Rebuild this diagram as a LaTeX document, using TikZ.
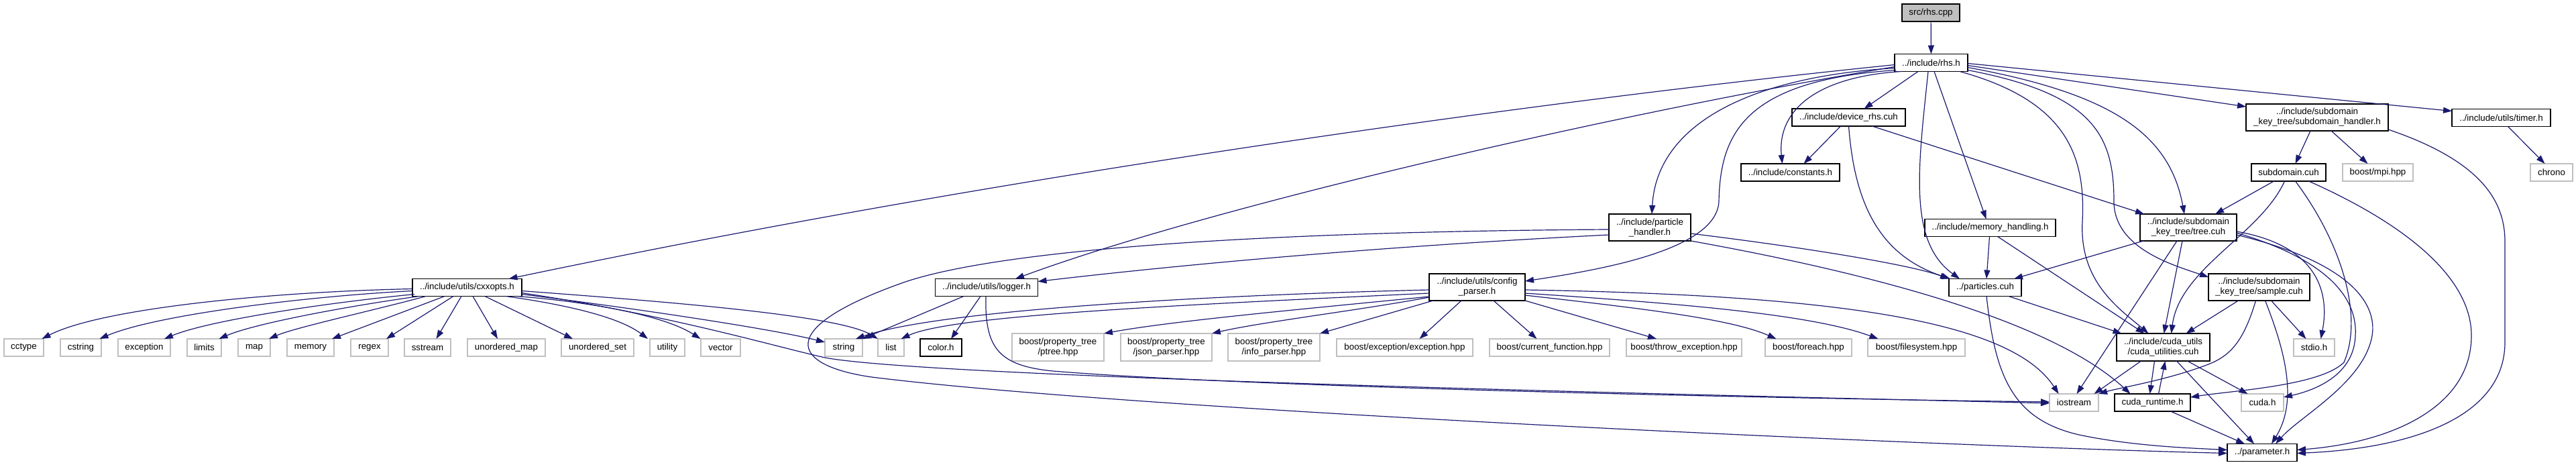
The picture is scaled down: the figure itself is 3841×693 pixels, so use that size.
\documentclass[tikz,border=0pt]{standalone}
\usepackage{fontspec}
\setmainfont{Liberation Sans}
\usetikzlibrary{arrows.meta}
\definecolor{edgeblue}{HTML}{191970}
\definecolor{leafgray}{HTML}{BFBFBF}
\begin{document}
\begin{tikzpicture}[x=1pt,y=-1pt,
  box/.style={draw=black, line width=1.3pt, fill=white, inner sep=0pt, outer sep=0pt,
    font=\fontsize{13.33}{15}\selectfont, align=center, minimum height=26pt},
  doc/.style={box},
  twol/.style={minimum height=40pt},
  leaf/.style={box, draw=leafgray},
  root/.style={box, fill=leafgray},
  dep/.style={draw=edgeblue, line width=1.2pt, -{Triangle[length=13pt,width=9pt]}}
]
\useasboundingbox (0,0) rectangle (3841,693);

% ---------- nodes ----------
\node[root, minimum width=86pt]  (src)    at (2879,19)     {src/rhs.cpp};
\node[doc, minimum width=109pt]  (rhs)    at (2879.5,93.5) {../include/rhs.h};
\node[doc, minimum width=169pt]  (devrhs) at (2756.5,175)  {../include/device\_rhs.cuh};
\node[doc, minimum width=147pt]  (consts) at (2669.5,257)  {../include/constants.h};
\node[doc, twol, minimum width=122pt] (phandler) at (2460,339) {../include/particle\\\_handler.h};
\node[doc, minimum width=195pt]  (memh)   at (2967.5,339.5) {../include/memory\_handling.h};
\node[doc, twol, minimum width=212pt] (subh) at (3455,175) {../include/subdomain\\\_key\_tree/subdomain\_handler.h};
\node[doc, minimum width=147pt]  (timer)  at (3729.5,175.5) {../include/utils/timer.h};
\node[doc, minimum width=111pt]  (subdom) at (3412.5,257)  {subdomain.cuh};
\node[leaf, minimum width=105pt] (mpi)    at (3545.5,257)  {boost/mpi.hpp};
\node[leaf, minimum width=63pt]  (chrono) at (3804.5,257)  {chrono};
\node[doc, twol, minimum width=144pt] (tree) at (3263,339) {../include/subdomain\\\_key\_tree/tree.cuh};
\node[doc, minimum width=163pt]  (cxxopts) at (696.5,428.5) {../include/utils/cxxopts.h};
\node[doc, minimum width=153pt]  (logger) at (1471,428.5)  {../include/utils/logger.h};
\node[doc, twol, minimum width=143pt] (config) at (2202.5,428) {../include/utils/config\\\_parser.h};
\node[doc, minimum width=108pt]  (particles) at (2960,428.5) {../particles.cuh};
\node[doc, twol, minimum width=151pt] (sample) at (3368.5,428) {../include/subdomain\\\_key\_tree/sample.cuh};

\node[leaf, minimum width=59pt]  (cctype)  at (35.5,518)  {cctype};
\node[leaf, minimum width=61pt]  (cstring) at (120.5,518) {cstring};
\node[leaf, minimum width=78pt]  (exception) at (215,518) {exception};
\node[leaf, minimum width=51pt]  (limits)  at (304.5,518) {limits};
\node[leaf, minimum width=48pt]  (map)     at (379,518)   {map};
\node[leaf, minimum width=70pt]  (memory)  at (463,518)   {memory};
\node[leaf, minimum width=56pt]  (regex)   at (551,518)   {regex};
\node[leaf, minimum width=69pt]  (sstream) at (637.5,518) {sstream};
\node[leaf, minimum width=116pt] (umap)    at (755,518)   {unordered\_map};
\node[leaf, minimum width=108pt] (uset)    at (891,518)   {unordered\_set};
\node[leaf, minimum width=52pt]  (utility) at (995,518)   {utility};
\node[leaf, minimum width=59pt]  (vector)  at (1074.5,518) {vector};
\node[leaf, minimum width=56pt]  (string)  at (1258,518)  {string};
\node[leaf, minimum width=39pt]  (list)    at (1328.5,518) {list};
\node[doc,  minimum width=62pt]  (color)   at (1403,518)  {color.h};
\node[leaf, minimum width=137pt, minimum height=41pt] (ptree) at (1577.5,517.5) {boost/property\_tree\\/ptree.hpp};
\node[leaf, minimum width=136pt, minimum height=41pt] (json)  at (1739,517.5)   {boost/property\_tree\\/json\_parser.hpp};
\node[leaf, minimum width=137pt, minimum height=41pt] (info)  at (1899.5,517.5) {boost/property\_tree\\/info\_parser.hpp};
\node[leaf, minimum width=203pt] (bexc)    at (2094.5,518) {boost/exception/exception.hpp};
\node[leaf, minimum width=179pt] (bcur)    at (2310.5,518) {boost/current\_function.hpp};
\node[leaf, minimum width=172pt] (bthrow)  at (2511,518)   {boost/throw\_exception.hpp};
\node[leaf, minimum width=129pt] (bforeach) at (2696.5,518) {boost/foreach.hpp};
\node[leaf, minimum width=145pt] (bfs)     at (2857.5,518) {boost/filesystem.hpp};
\node[doc, minimum width=139pt, minimum height=41pt] (cudautil) at (3225.5,517.5) {../include/cuda\_utils\\/cuda\_utilities.cuh};
\node[leaf, minimum width=61pt]  (stdio)   at (3450.5,518) {stdio.h};
\node[leaf, minimum width=73pt]  (iostream) at (3092.5,600) {iostream};
\node[doc,  minimum width=113pt] (cudart)  at (3209.5,600) {cuda\_runtime.h};
\node[leaf, minimum width=63pt]  (cudah)   at (3373.5,600) {cuda.h};
\node[doc,  minimum width=104pt] (param)   at (3373,674.5) {../parameter.h};

% ---------- edges ----------
\draw[dep] (src) -- (rhs);
% rhs.h
\draw[dep] ([yshift=-3pt]rhs.west) .. controls (2300,150) and (1500,260) .. ([xshift=62pt]cxxopts.north);
\draw[dep] ([yshift=-6pt]rhs.west) .. controls (2400,170) and (1800,310) .. ([xshift=43pt]logger.north);
\draw[dep] ([yshift=-8pt]rhs.west) .. controls (2600,115) and (2470,190) .. ([xshift=3pt]phandler.north);
\draw[dep] ([xshift=2pt,yshift=2pt]rhs.south west) .. controls (2600,120) and (2565,200) .. (2563,300)
           .. controls (2560,370) and (2400,400) .. ([yshift=9pt]config.east);
\draw[dep] ([xshift=10pt]rhs.south west) .. controls (2700,115) and (2650,170) .. ([xshift=-12pt]consts.north);
\draw[dep] ([xshift=35pt]rhs.south west) -- ([xshift=23pt]devrhs.north);
\draw[dep] ([xshift=59pt]rhs.south west) -- ([xshift=-6pt]memh.north);
\draw[dep] ([xshift=50pt]rhs.south west) .. controls (2860,250) and (2845,360) .. ([xshift=-38pt]particles.north);
\draw[dep] ([xshift=-12pt]rhs.south east) .. controls (3080,150) and (3110,230) .. (3105,330)
           .. controls (3100,420) and (3160,460) .. ([xshift=-22pt]cudautil.north);
\draw[dep] ([yshift=2pt]rhs.south east) .. controls (3120,140) and (3152,200) .. (3152,300)
           .. controls (3152,370) and (3240,395) .. ([yshift=-5pt]sample.north west);
\draw[dep] ([yshift=-7pt]rhs.east) .. controls (3150,140) and (3235,200) .. ([xshift=-6pt]tree.north);
\draw[dep] ([yshift=-4pt]rhs.east) -- ([yshift=-4pt]subh.north west);
\draw[dep] ([yshift=-1pt]rhs.east) -- ([yshift=-3pt]timer.north west);
% device_rhs
\draw[dep] (devrhs.south) .. controls (2765,300) and (2800,380) .. ([xshift=-52pt]particles.north);
\draw[dep] ([xshift=-12pt]devrhs.south) -- ([xshift=20pt]consts.north);
\draw[dep] ([xshift=35pt]devrhs.south) -- ([xshift=-66pt]tree.north);
% subdomain handler, timer
\draw[dep] ([xshift=-10pt]subh.south) -- ([xshift=10pt]subdom.north);
\draw[dep] ([xshift=21pt]subh.south) -- ([xshift=-15pt]mpi.north);
\draw[dep] ([yshift=2pt]subh.south east) .. controls (3700,240) and (3735,300) .. (3735,360) -- (3735,510)
           .. controls (3735,620) and (3600,668) .. ([yshift=-1pt]param.east);
\draw[dep] ([xshift=10pt]timer.south) -- ([xshift=-10pt]chrono.north);
% subdomain.cuh
\draw[dep] ([xshift=-22pt]subdom.south) -- ([xshift=40pt]tree.north);
\draw[dep] ([xshift=-6pt]subdom.south) .. controls (3370,350) and (3250,400) .. ([xshift=12pt]cudautil.north);
\draw[dep] ([xshift=10pt]subdom.south) .. controls (3490,360) and (3525,470) .. (3495,540)
           .. controls (3460,575) and (3330,582) .. ([yshift=8pt]cudart.east);
\draw[dep] ([xshift=30pt]subdom.south) .. controls (3600,340) and (3685,420) .. (3685,500)
           .. controls (3685,610) and (3560,660) .. ([yshift=4pt]param.east);
% tree.cuh
\draw[dep] ([xshift=-67pt]tree.south) -- ([xshift=43pt]particles.north);
\draw[dep] ([xshift=-17pt]tree.south) -- ([xshift=4pt]iostream.north);
\draw[dep] ([xshift=-9pt]tree.south) -- ([xshift=1pt]cudautil.north);
\draw[dep] ([yshift=-6pt]tree.east) .. controls (3450,365) and (3475,430) .. ([xshift=10pt]stdio.north);
\draw[dep] ([yshift=-8pt]tree.east) .. controls (3480,390) and (3515,450) .. (3512,500)
           .. controls (3510,560) and (3450,582) .. ([yshift=8pt]cudah.east);
\draw[dep] ([yshift=-11pt]tree.east) .. controls (3500,390) and (3545,450) .. (3537,500)
           .. controls (3525,570) and (3430,620) .. ([xshift=20pt]param.north);
% sample.cuh
\draw[dep] ([xshift=-31pt]sample.south) -- ([xshift=34pt]cudautil.north);
\draw[dep] ([xshift=-5pt]sample.south) .. controls (3345,510) and (3325,528) .. (3300,540)
           .. controls (3240,565) and (3160,578) .. (iostream.north east);
\draw[dep] ([xshift=9pt]sample.south) .. controls (3410,530) and (3425,600) .. ([xshift=14pt]param.north);
\draw[dep] ([xshift=18pt]sample.south) -- ([xshift=-12pt]stdio.north);
% cuda utilities, cuda runtime
\draw[dep] ([xshift=-33pt]cudautil.south) -- ([xshift=30pt]iostream.north);
\draw[dep] ([xshift=-13pt]cudautil.south) -- ([xshift=-4pt]cudart.north);
\draw[dep] ([xshift=9pt]cudart.north) -- ([xshift=3pt]cudautil.south);
\draw[dep] ([xshift=36pt]cudautil.south) -- ([xshift=-22pt]cudah.north);
\draw[dep] ([xshift=20pt]cudautil.south) -- ([xshift=-12pt]param.north);
\draw[dep] ([xshift=27pt]cudart.south) -- ([xshift=-26pt]param.north);
% particles.cuh
\draw[dep] ([xshift=2pt]particles.south) .. controls (2975,560) and (3000,625) .. (3100,648)
           .. controls (3180,665) and (3270,668) .. ([yshift=4pt]param.west);
\draw[dep] ([xshift=35pt]particles.south) -- ([xshift=-62pt]cudautil.north);
% particle handler
\draw[dep] ([yshift=-3pt]phandler.west) .. controls (1900,345) and (1500,370) .. (1350,420)
           .. controls (1150,490) and (1180,545) .. (1300,562)
           .. controls (1700,612) and (2900,665) .. ([yshift=-1pt]param.west);
\draw[dep] ([yshift=-11pt]phandler.west) .. controls (2100,365) and (1800,390) .. ([yshift=9pt]logger.east);
\draw[dep] ([yshift=-9pt]phandler.east) .. controls (2700,370) and (2850,395) .. (particles.north west);
\draw[dep] (phandler.south east) .. controls (2750,400) and (3050,470) .. ([xshift=-33pt]cudart.north);
% memory handling
\draw[dep] ([xshift=-1pt]memh.south) -- ([xshift=2pt]particles.north);
\draw[dep] ([xshift=11pt]memh.south) -- ([xshift=-28pt]cudautil.north);
% config parser
\draw[dep] ([yshift=-4pt]config.west) .. controls (1800,440) and (1400,462) .. ([xshift=18pt]string.north);
\draw[dep] ([yshift=-9pt]config.west) .. controls (1750,455) and (1420,470) .. ([xshift=15pt]list.north);
\draw[dep] ([yshift=-14pt]config.west) .. controls (1950,460) and (1750,478) .. (ptree.north east);
\draw[dep] ([yshift=5pt]config.south west) .. controls (2030,462) and (1880,480) .. (json.north east);
\draw[dep] ([xshift=6pt]config.south west) -- (info.north east);
\draw[dep] ([xshift=48pt]config.south west) -- ([xshift=22pt]bexc.north);
\draw[dep] ([xshift=96pt]config.south west) -- ([xshift=-19pt]bcur.north);
\draw[dep] (config.south east) -- ([xshift=-41pt]bthrow.north);
\draw[dep] ([yshift=-12pt]config.east) .. controls (2450,460) and (2580,475) .. ([xshift=-48pt]bforeach.north);
\draw[dep] ([yshift=-9pt]config.east) .. controls (2500,452) and (2700,468) .. ([xshift=-57pt]bfs.north);
\draw[dep] ([yshift=-4pt]config.east) .. controls (2750,440) and (3000,480) .. ([xshift=-23pt]iostream.north);
% logger
\draw[dep] ([xshift=-34pt]logger.south) -- (string.north east);
\draw[dep] ([xshift=-9pt]logger.south) -- ([xshift=15pt]color.north);
\draw[dep] ([xshift=-1pt]logger.south) .. controls (1468,520) and (1490,545) .. (1570,553)
           .. controls (1900,580) and (2800,596) .. ([yshift=1pt]iostream.west);
% cxxopts
\draw[dep] ([yshift=-8pt]cxxopts.east) .. controls (1000,470) and (1150,515) .. (1230,533)
           .. controls (1400,565) and (2700,592) .. ([yshift=-1pt]iostream.west);
\draw[dep] ([yshift=-10pt]cxxopts.east) .. controls (950,460) and (1150,490) .. ([yshift=8pt]string.west);
\draw[dep] ([yshift=-5pt]cxxopts.east) .. controls (1000,450) and (1250,470) .. (list.north west);
\draw[dep] ([yshift=-2pt]cxxopts.west) .. controls (400,435) and (150,460) .. ([xshift=27pt]cctype.north);
\draw[dep] ([yshift=-5pt]cxxopts.west) .. controls (450,442) and (230,470) .. ([xshift=28pt]cstring.north);
\draw[dep] ([xshift=3pt,yshift=3pt]cxxopts.south west) .. controls (480,452) and (310,478) .. ([xshift=30pt]exception.north);
\draw[dep] ([xshift=10pt]cxxopts.south west) .. controls (520,456) and (380,482) .. ([xshift=22pt]limits.north);
\draw[dep] ([xshift=20pt]cxxopts.south west) .. controls (560,462) and (440,488) .. ([xshift=22pt]map.north);
\draw[dep] ([xshift=48pt]cxxopts.south west) -- ([xshift=32pt]memory.north);
\draw[dep] ([xshift=61pt]cxxopts.south west) -- ([xshift=25pt]regex.north);
\draw[dep] ([xshift=73pt]cxxopts.south west) -- ([xshift=13pt]sstream.north);
\draw[dep] ([xshift=90pt]cxxopts.south west) -- ([xshift=-13pt]umap.north);
\draw[dep] ([xshift=108pt]cxxopts.south west) -- ([xshift=-37pt]uset.north);
\draw[dep] ([xshift=139pt]cxxopts.south west) .. controls (830,452) and (920,470) .. ([xshift=-29pt]utility.north);
\draw[dep] ([xshift=156pt]cxxopts.south west) .. controls (880,450) and (990,470) .. ([xshift=-30pt]vector.north);
\end{tikzpicture}
\end{document}
